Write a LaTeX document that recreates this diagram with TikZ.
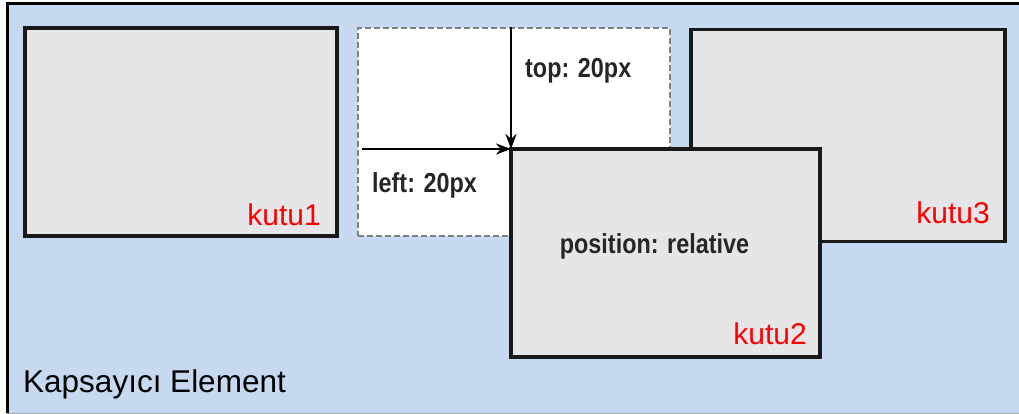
\documentclass[tikz,border=0pt]{standalone}
\usepackage{fontspec}
\setmainfont{Liberation Sans}
\newfontfamily\condfont[FakeStretch=0.85]{Liberation Sans Bold}
\usepackage{xcolor}
\usetikzlibrary{arrows.meta,positioning,calc}
\definecolor{kapmavi}{RGB}{198,217,240}
\definecolor{kutugri}{RGB}{230,230,232}

\begin{document}
\begin{tikzpicture}[
  x=1pt,y=-1pt,
  node distance=21pt,
  kutu/.style={rectangle,draw=black!90,fill=kutugri,line width=3.5pt,
               minimum width=312pt,minimum height=208pt,inner sep=0pt,outer sep=0pt},
  hayalet/.style={kutu,draw=black!50,fill=white,line width=2.5pt,
                  dash pattern=on 6pt off 3pt},
  etiket/.style={text=red,font=\fontsize{30}{34}\selectfont,inner sep=0pt,anchor=base east},
  not/.style={text=black!85,font=\condfont\fontsize{27.5}{32}\selectfont,inner sep=0pt},
  arr/.style={-{Stealth[length=15pt,width=11pt]},line width=2.5pt}
]
  \useasboundingbox (0,0) rectangle (1019,414);

  % kapsayici element
  \node[rectangle,fill=kapmavi,minimum width=1012pt,minimum height=409pt,
        inner sep=0pt,anchor=north west] (kap) at (7,4) {};
  \draw[black!35,line width=1pt] (kap.south west) -- (kap.south east);
  \draw[line width=3pt] (kap.south west) -- (kap.north west) -- (kap.north east);
  \node[font=\fontsize{31.5}{36}\selectfont,inner sep=0pt,anchor=base west] (kapad)
    at (23,392) {Kapsay\i c\i{} Element};

  % kutular
  \node[kutu,anchor=north west] (kutu1) at (25,28) {};
  \node[hayalet,right=of kutu1] (statik) {};
  \node[kutu,right=of statik,yshift=-3.5pt,minimum width=314pt,minimum height=212pt] (kutu3) {};
  \node[kutu,anchor=north west,minimum width=309pt] (kutu2)
    at ([shift={(153,121)}]statik.north west) {};

  \node[etiket] (ad1) at ([shift={(-16,-11)}]kutu1.south east) {kutu1};
  \node[etiket] (ad3) at ([shift={(-15,-18)}]kutu3.south east) {kutu3};
  \node[etiket] (ad2) at ([shift={(-13,-13)}]kutu2.south east) {kutu2};
  \node[not,anchor=base] (pos) at ([xshift=-11]kutu2.center) {position: relative};

  % kaydirma oklari
  \draw[arr] ([xshift=4pt]statik.west |- kutu2.north west) -- (kutu2.north west);
  \draw[arr] ([yshift=1pt]statik.north -| kutu2.north west) -- (kutu2.north west);
  \node[not,anchor=base west] (topad) at ([shift={(14,-71)}]kutu2.north west) {top: 20px};
  \node[not,anchor=base west] (leftad) at ([shift={(14,165)}]statik.north west) {left: 20px};
\end{tikzpicture}
\end{document}
